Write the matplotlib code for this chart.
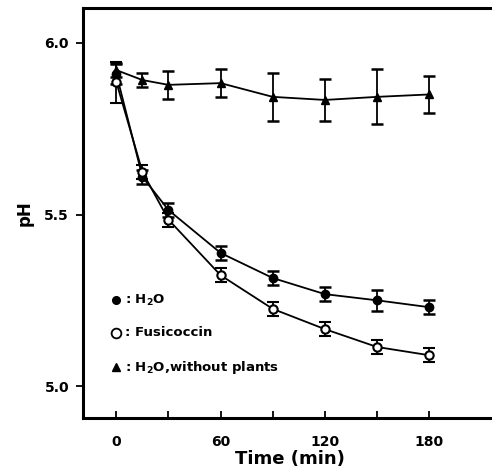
import matplotlib
matplotlib.use("Agg")
import matplotlib.pyplot as plt
import numpy as np

time = [0, 15, 30, 60, 90, 120, 150, 180]
h2o = [5.91, 5.61, 5.513, 5.388, 5.315, 5.268, 5.25, 5.23]
h2o_err = [0.03, 0.02, 0.02, 0.02, 0.02, 0.02, 0.03, 0.02]
fusi = [5.886, 5.624, 5.485, 5.323, 5.225, 5.166, 5.114, 5.09]
fusi_err = [0.06, 0.02, 0.02, 0.02, 0.02, 0.02, 0.02, 0.02]
noplant = [5.921, 5.892, 5.878, 5.883, 5.843, 5.834, 5.843, 5.85]
noplant_err = [0.02, 0.02, 0.04, 0.04, 0.07, 0.06, 0.08, 0.055]

xticks = [0, 60, 120, 180]
yticks = [5.0, 5.5, 6.0]
ytick_labels = ["5.0", "5.5", "6.0"]

plt.rcParams['font.family'] = ['DejaVu Sans']
plt.rcParams['font.weight'] = 'bold'

fig = plt.figure(figsize=(4.92, 4.72), dpi=100)
ax = fig.add_axes([83/492, 1-418/472, (492-83)/492 + 0.01, (418-8)/472])

common = dict(color='black', lw=1.3, elinewidth=1.3, capsize=4.5, capthick=1.8, markersize=6)
ax.errorbar(time, noplant, yerr=noplant_err, fmt='-^', mfc='black', mec='black', zorder=3, **common)
ax.errorbar(time, h2o, yerr=h2o_err, fmt='-o', mfc='black', mec='black', zorder=4, **common)
ax.errorbar(time, fusi, yerr=fusi_err, fmt='-o', mfc='white', mec='black', mew=1.5, zorder=5, **common)

ax.set_xlim(-19.2, 219)
ax.set_ylim(4.907, 6.102)

ax.set_xticks(xticks)
ax.set_xticklabels([str(t) for t in xticks], fontsize=10, fontweight='bold')
ax.set_xticks([30, 90, 150], minor=True)
ax.tick_params(axis='x', which='both', direction='in', length=5, width=1.3, pad=12)
ax.set_yticks(yticks)
ax.set_yticklabels(ytick_labels, fontsize=10, fontweight='bold')
ax.tick_params(axis='y', direction='out', length=5, width=1.3, pad=5)

ax.spines['right'].set_visible(False)
for s in ['left', 'bottom', 'top']:
    ax.spines[s].set_linewidth(2.2)

ax.set_xlabel('Time (min)', fontsize=13, fontweight='bold', labelpad=1)
ax.set_ylabel('pH', fontsize=12, fontweight='bold', labelpad=8)

# legend as text
ax.plot([0], [5.25], 'o', color='black', ms=5.5)
ax.text(5, 5.25, ': H$_2$O', fontsize=9.5, fontweight='bold', va='center')
ax.plot([0], [5.155], 'o', mfc='white', mec='black', mew=1.3, ms=7)
ax.text(5, 5.155, ': Fusicoccin', fontsize=9.5, fontweight='bold', va='center')
ax.plot([0], [5.055], '^', color='black', ms=5.5)
ax.text(5, 5.055, ': H$_2$O,without plants', fontsize=9.5, fontweight='bold', va='center')

fig.savefig('out.png', dpi=100)
